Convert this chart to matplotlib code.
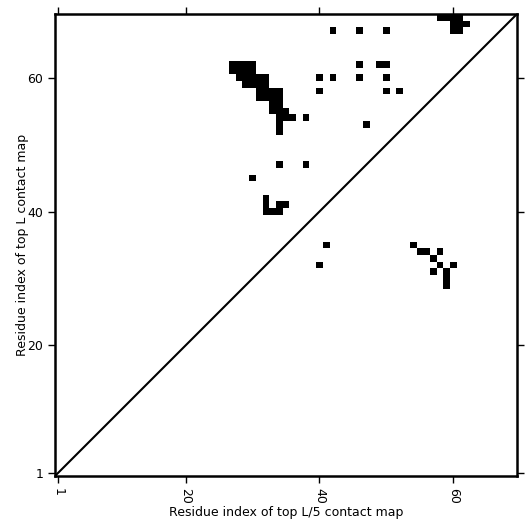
import numpy as np
import matplotlib
matplotlib.use("Agg")
import matplotlib.pyplot as plt

L = 69
tick_vals = [1, 20, 40, 60]

# Top L contacts (upper-left triangle): residue x, residue y
top_l_x = [58, 59, 60, 61,
           60, 61, 62,
           42, 46, 50, 60, 61,
           27, 28, 29, 30, 46, 49, 50,
           27, 28, 29, 30,
           28, 29, 30, 31, 32, 40, 42, 46, 50,
           29, 30, 31, 32,
           31, 32, 33, 34, 40, 50, 52,
           31, 32, 33, 34,
           33, 34,
           33, 34, 35,
           34, 35, 36, 38,
           34, 47,
           34,
           34, 38,
           30,
           32,
           32, 34, 35,
           32, 33, 34]
top_l_y = [69, 69, 69, 69,
           68, 68, 68,
           67, 67, 67, 67, 67,
           62, 62, 62, 62, 62, 62, 62,
           61, 61, 61, 61,
           60, 60, 60, 60, 60, 60, 60, 60, 60,
           59, 59, 59, 59,
           58, 58, 58, 58, 58, 58, 58,
           57, 57, 57, 57,
           56, 56,
           55, 55, 55,
           54, 54, 54, 54,
           53, 53,
           52,
           47, 47,
           45,
           42,
           41, 41, 41,
           40, 40, 40]

# Top L/5 contacts (lower-right triangle)
top_l5_x = [41, 40, 54, 55, 56, 58, 57, 58, 60, 57, 59, 59, 59]
top_l5_y = [35, 32, 35, 34, 34, 34, 33, 32, 32, 31, 31, 30, 29]

mat = np.zeros((L, L))
for x, y in zip(top_l_x + top_l5_x, top_l_y + top_l5_y):
    mat[y - 1, x - 1] = 1

fig = plt.figure(figsize=(5.31, 5.31), dpi=100)
ax = fig.add_axes([55 / 531, 55 / 531, 462 / 531, 462 / 531])
ax.imshow(mat, cmap="Greys", vmin=0, vmax=1, origin="lower",
          extent=(0.5, L + 0.5, 0.5, L + 0.5), interpolation="nearest",
          aspect="auto")
ax.plot([0.5, L + 0.5], [0.5, L + 0.5], color="black", linewidth=1.5)
ax.set_xlim(0.5, L + 0.5)
ax.set_ylim(0.5, L + 0.5)
ax.set_xticks(tick_vals)
ax.set_yticks(tick_vals)
ax.set_xticklabels([str(t) for t in tick_vals], rotation=270)
ax.set_yticklabels([str(t) for t in tick_vals])
ax.tick_params(direction="out", length=5, width=1, top=True, right=True,
               labeltop=False, labelright=False, labelsize=9)
for s in ax.spines.values():
    s.set_linewidth(1.8)
ax.set_xlabel("Residue index of top L/5 contact map", fontsize=9, labelpad=2)
ax.set_ylabel("Residue index of top L contact map", fontsize=9, labelpad=-1)
fig.savefig("out.png", dpi=100)
